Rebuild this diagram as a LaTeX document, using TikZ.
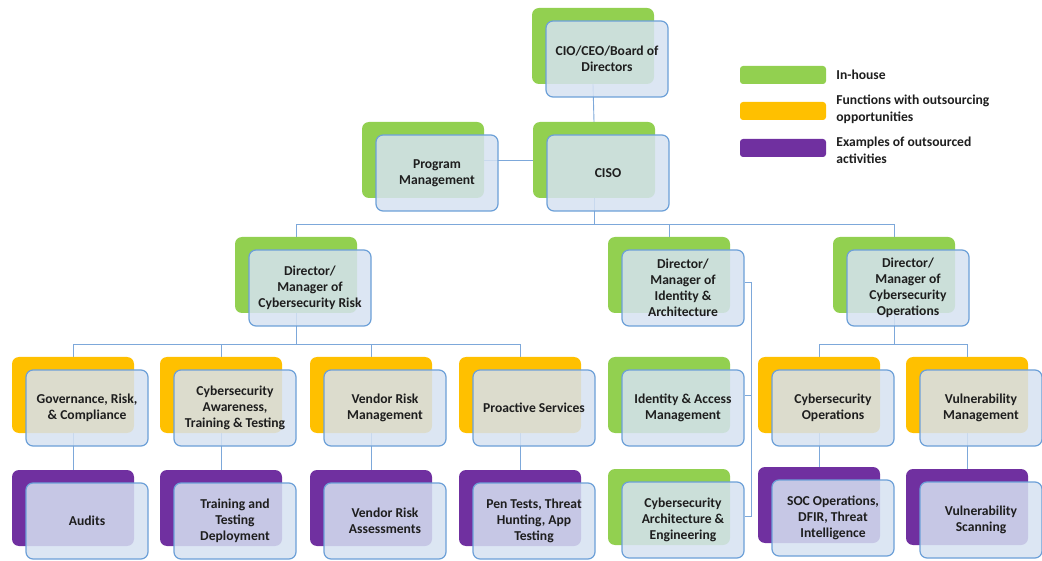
\documentclass[tikz,border=0pt]{standalone}
\usepackage{fontspec}
\setmainfont{Carlito}
\usetikzlibrary{positioning,backgrounds}

\definecolor{inhouse}{RGB}{146,208,80}
\definecolor{outsrc}{RGB}{255,192,0}
\definecolor{outdone}{RGB}{112,48,160}
\definecolor{frontfill}{RGB}{214,226,242}
\definecolor{frontline}{RGB}{108,160,216}
\definecolor{linkline}{RGB}{125,168,218}
\definecolor{labeltext}{RGB}{30,30,30}

\tikzset{
  backbox/.style={rectangle, rounded corners=7pt, minimum width=122pt, minimum height=76pt, inner sep=0pt},
  frontbox/.style={rectangle, rounded corners=7pt, minimum width=122pt, minimum height=76pt, inner sep=0pt,
    draw=frontline, line width=1.2pt, fill=frontfill, fill opacity=0.85, text opacity=1,
    text=labeltext, align=center, font=\bfseries\fontsize{13.6}{16}\selectfont},
  link/.style={draw=linkline, line width=0.9pt},
  legendbox/.style={rectangle, rounded corners=3pt, minimum width=86pt, minimum height=18pt, inner sep=0pt},
  legendtext/.style={text=labeltext, align=left, inner sep=0pt, font=\bfseries\fontsize{13.6}{17}\selectfont}
}

% #1 name, #2/#3 top left of the coloured box, #4 colour, #5 label
\newcommand{\unitbox}[5]{%
  \node[backbox, fill=#4] (#1b) at (#2+61,#3+38) {};
  \node[frontbox] (#1) at (#2+75,#3+51) {#5};
}

\begin{document}
\begin{tikzpicture}[x=1pt, y=-1pt]
\useasboundingbox (0,0) rectangle (1042,561);

\unitbox{cio}{532}{8}{inhouse}{CIO/CEO/Board of\\Directors}
\unitbox{ciso}{533}{122}{inhouse}{CISO}
\unitbox{prog}{362}{122}{inhouse}{Program\\Management}

\unitbox{risk}{235}{237}{inhouse}{Director/\\Manager of\\Cybersecurity Risk}
\unitbox{id}{608}{237}{inhouse}{Director/\\Manager of\\Identity \&\\Architecture}
\unitbox{ops}{833}{237}{inhouse}{Director/\\Manager of\\Cybersecurity\\Operations}

\unitbox{grc}{12}{357}{outsrc}{Governance, Risk,\\\& Compliance}
\unitbox{aware}{160}{357}{outsrc}{Cybersecurity\\Awareness,\\Training \& Testing}
\unitbox{vendor}{310}{357}{outsrc}{Vendor Risk\\Management}
\unitbox{proactive}{459}{357}{outsrc}{Proactive Services}
\unitbox{idam}{608}{357}{inhouse}{Identity \& Access\\Management}
\unitbox{cyops}{758}{357}{outsrc}{Cybersecurity\\Operations}
\unitbox{vulnm}{906}{357}{outsrc}{Vulnerability\\Management}

\unitbox{audits}{12}{470}{outdone}{Audits}
\unitbox{train}{160}{470}{outdone}{Training and\\Testing\\Deployment}
\unitbox{vra}{310}{470}{outdone}{Vendor Risk\\Assessments}
\unitbox{pen}{459}{470}{outdone}{Pen Tests, Threat\\Hunting, App\\Testing}
\unitbox{arch}{608}{469}{inhouse}{Cybersecurity\\Architecture \&\\Engineering}
\unitbox{soc}{758}{467}{outdone}{SOC Operations,\\DFIR, Threat\\Intelligence}
\unitbox{vscan}{906}{469}{outdone}{Vulnerability\\Scanning}

\node[legendbox, fill=inhouse] (lgin) at (783,75) {};
\node[legendbox, fill=outsrc] (lgout) at (783,111) {};
\node[legendbox, fill=outdone] (lgdone) at (783,148) {};
\node[legendtext, right=10pt of lgin] (lgintxt) {In-house};
\node[legendtext, right=10pt of lgout, yshift=2pt] (lgouttxt) {Functions with outsourcing\\opportunities};
\node[legendtext, right=10pt of lgdone, yshift=-2pt] (lgdonetxt) {Examples of outsourced\\activities};

\begin{pgfonlayer}{background}
\fill[white] (0,0) rectangle (1042,561);
\draw[link] (ciob.south) -- (cisob.north);
\draw[link] (progb.east) -- (cisob.west);
\draw[link] (riskb.north) -- ++(0,-12) coordinate (topbus) -| (opsb.north);
\draw[link] (cisob.south) -- (cisob.south |- topbus);
\draw[link] (idb.north) -- (idb.north |- topbus);
\draw[link] (grcb.north) -- ++(0,-12) coordinate (riskbus) -| (proactiveb.north);
\draw[link] (riskb.south) -- (riskb.south |- riskbus);
\draw[link] (awareb.north) -- (awareb.north |- riskbus);
\draw[link] (vendorb.north) -- (vendorb.north |- riskbus);
\draw[link] (cyopsb.north) -- ++(0,-12) coordinate (opsbus) -| (vulnmb.north);
\draw[link] (opsb.south) -- (opsb.south |- opsbus);
\draw[link] ([yshift=6pt]id.east) -- ++(7,0) coordinate (idbus) |- ([yshift=4pt]arch.east);
\draw[link] (idbus) |- ([yshift=13pt]idam.east);
\draw[link] (grcb.south) -- (auditsb.north);
\draw[link] (awareb.south) -- (trainb.north);
\draw[link] (vendorb.south) -- (vrab.north);
\draw[link] (proactiveb.south) -- (penb.north);
\draw[link] (cyopsb.south) -- (socb.north);
\draw[link] (vulnmb.south) -- (vscanb.north);
\end{pgfonlayer}
\end{tikzpicture}
\end{document}
